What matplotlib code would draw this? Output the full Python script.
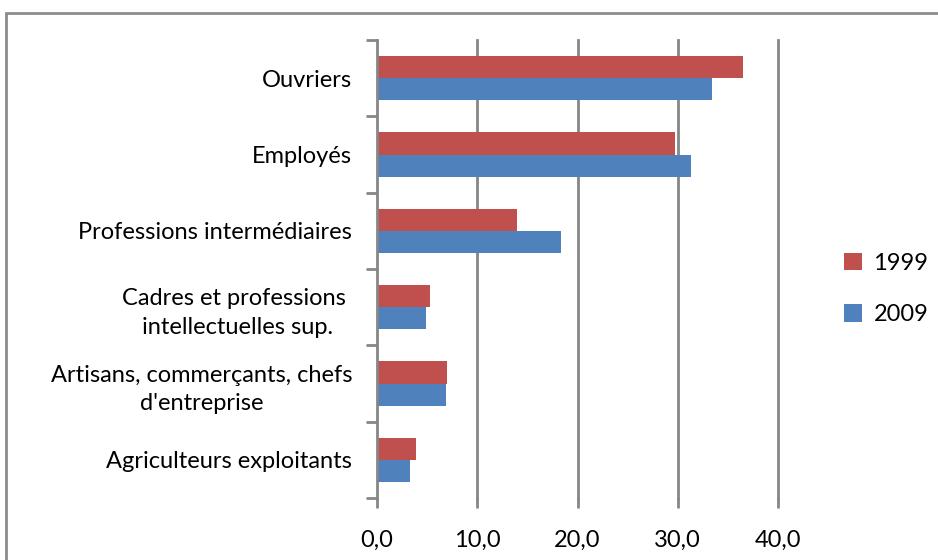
import matplotlib
matplotlib.use("Agg")
import matplotlib.pyplot as plt
import numpy as np
from matplotlib.patches import Rectangle

categories = [
    "Agriculteurs exploitants",
    "Artisans, commerçants, chefs\nd'entreprise",
    "Cadres et professions \nintellectuelles sup.",
    "Professions intermédiaires",
    "Employés",
    "Ouvriers",
]
values_1999 = [3.9, 7.0, 5.3, 14.0, 29.7, 36.5]
values_2009 = [3.3, 6.9, 4.9, 18.4, 31.3, 33.4]
series_labels = ["1999", "2009"]
xticks = [0, 10, 20, 30, 40]
xtick_labels = ["0,0", "10,0", "20,0", "30,0", "40,0"]

red = "#C0504D"
blue = "#4F81BD"
grid_c = "#868686"

plt.rcParams["font.family"] = ["Lato", "DejaVu Sans"]
fs = 17

fig = plt.figure(figsize=(9.38, 5.6), dpi=100)
ax = fig.add_axes([377 / 938, 1 - 498 / 560, (778 - 377) / 938, (498 - 40) / 560])

# outer chart frame
fig.patches.append(Rectangle((5.5 / 938, -0.05), 1.2, 1 - 12.5 / 560 + 0.05,
                             transform=fig.transFigure, fill=False,
                             edgecolor="#8C8C8C", linewidth=2))

y = np.arange(len(categories))
h = 0.29
ax.barh(y + h / 2, values_1999, height=h, color=red, label=series_labels[0], zorder=3)
ax.barh(y - h / 2, values_2009, height=h, color=blue, label=series_labels[1], zorder=3)

ax.set_xlim(0, 40)
ax.set_ylim(-0.5, len(categories) - 0.5)

# vertical gridlines
for xv in xticks[1:]:
    ax.axvline(xv, color=grid_c, linewidth=2, zorder=1, clip_on=False)

for s in ["top", "right", "bottom"]:
    ax.spines[s].set_visible(False)
ax.spines["left"].set_color(grid_c)
ax.spines["left"].set_linewidth(2)
ax.spines["left"].set_zorder(4)

ax.set_xticks(xticks)
ax.set_xticklabels(xtick_labels, fontsize=fs)
ax.tick_params(axis="x", length=7, width=2, color=grid_c, pad=16)

ax.set_yticks(y)
ax.set_yticklabels(categories, fontsize=fs, multialignment="center", linespacing=1.45)
ax.tick_params(axis="y", length=0, pad=18)
ax.set_yticks(np.arange(-0.5, len(categories), 1.0), minor=True)
ax.tick_params(axis="y", which="minor", length=8, width=2, color=grid_c)

handles, labels = ax.get_legend_handles_labels()
fig.legend(handles, labels, loc="center left", bbox_to_anchor=(844 / 938, 1 - 289 / 560),
           frameon=False, fontsize=fs, handlelength=0.75, handleheight=0.75,
           handletextpad=0.5, labelspacing=1.3, borderaxespad=0, borderpad=0)

fig.savefig("out.png", dpi=100)
